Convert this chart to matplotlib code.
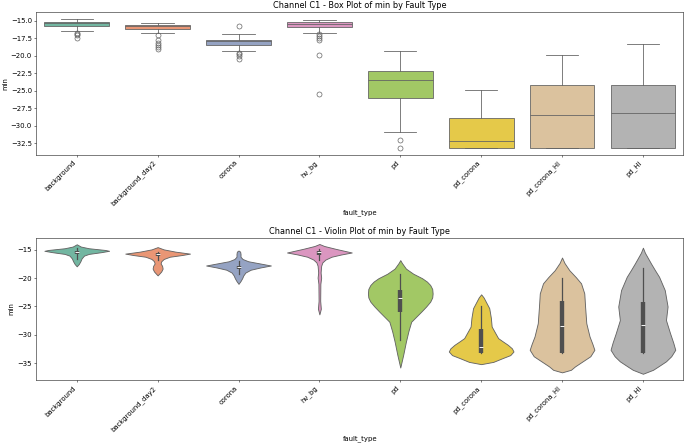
import matplotlib
matplotlib.use('Agg')
import matplotlib.pyplot as plt
import numpy as np
import seaborn as sns

# categories and box plot stats
fault_types = ['background', 'background_day2', 'corona', 'hv_bg',
               'pd', 'pd_corona', 'pd_corona_HI', 'pd_HI']

whis_hi = [-14.67, -15.29, -16.9, -14.9, -19.27, -24.87, -19.89, -18.27]
q3 = [-15.1, -15.53, -17.76, -15.24, -22.17, -28.94, -24.11, -24.21]
med = [-15.34, -15.77, -17.95, -15.43, -23.45, -32.22, -28.52, -28.24]
q1 = [-15.77, -16.1, -18.41, -15.86, -26.01, -33.21, -33.21, -33.2]
whis_lo = [-16.52, -16.72, -19.32, -16.76, -30.94, -33.21, -33.21, -33.2]
fliers = [
    [-16.7, -16.85, -17.0, -17.47],
    [-17.0, -17.7, -18.1, -18.4, -18.76, -18.99],
    [-15.72, -19.55, -19.8, -20.08, -20.46],
    [-16.95, -17.2, -17.45, -17.7, -19.94, -25.44],
    [-32.03, -33.21],
    [],
    [],
    [],
]

# violin outlines: value levels and half widths (category units)
vio_y = [
    [-14.0, -14.4, -14.7, -15.0, -15.15, -15.4, -15.7, -16.0, -16.5, -17.0, -17.5, -17.9],
    [-14.5, -14.9, -15.3, -15.65, -15.9, -16.2, -16.6, -17.0, -17.4, -17.8, -18.3, -18.8, -19.2, -19.5],
    [-15.1, -15.3, -15.7, -16.2, -16.6, -17.0, -17.4, -17.75, -18.1, -18.5, -19.0, -19.5, -20.0, -20.5, -21.0],
    [-13.95, -14.3, -14.8, -15.45, -15.8, -16.2, -16.7, -17.2, -17.8, -19.0, -19.9, -21.0, -24.0, -25.4, -26.4],
    [-16.8, -17.3, -18.3, -19.2, -20.0, -20.6, -21.2, -21.9, -22.7, -23.4, -24.15, -25.0, -25.9,
     -27.7, -29.4, -31.2, -33.5, -35.8],
    [-22.85, -23.4, -25.3, -27.0, -28.55, -30.6, -31.2, -31.78, -32.4, -32.96, -33.6, -34.1, -34.8, -35.2],
    [-16.34, -17.3, -18.58, -19.8, -20.9, -22.68, -25.0, -27.96, -30.3, -31.6, -32.66, -33.8, -34.7,
     -35.6, -36.2, -36.65],
    [-14.6, -15.5, -17.4, -18.6, -19.75, -22.1, -25.0, -27.4, -29.7, -31.4, -32.66, -33.8, -34.7,
     -35.6, -36.2, -36.9],
]
vio_w = [
    [0, 0.05, 0.15, 0.35, 0.40, 0.30, 0.15, 0.09, 0.06, 0.045, 0.025, 0],
    [0, 0.075, 0.22, 0.40, 0.30, 0.15, 0.075, 0.045, 0.037, 0.055, 0.062, 0.045, 0.02, 0],
    [0, 0.02, 0.025, 0.025, 0.05, 0.12, 0.27, 0.40, 0.27, 0.15, 0.085, 0.06, 0.045, 0.025, 0],
    [0, 0.06, 0.2, 0.40, 0.27, 0.15, 0.075, 0.037, 0.022, 0.015, 0.022, 0.012, 0.01, 0.018, 0],
    [0, 0.02, 0.07, 0.16, 0.27, 0.33, 0.37, 0.395, 0.40, 0.395, 0.37, 0.32, 0.26,
     0.135, 0.1, 0.07, 0.037, 0],
    [0, 0.03, 0.1, 0.12, 0.13, 0.21, 0.27, 0.33, 0.38, 0.40, 0.36, 0.27, 0.15, 0],
    [0, 0.03, 0.09, 0.17, 0.235, 0.275, 0.285, 0.3, 0.34, 0.375, 0.40, 0.35, 0.255,
     0.16, 0.11, 0],
    [0, 0.025, 0.1, 0.15, 0.2, 0.27, 0.305, 0.285, 0.335, 0.375, 0.40, 0.35, 0.285,
     0.19, 0.125, 0],
]

colors = sns.color_palette('Set2', len(fault_types), desat=0.75)
line_col = '#636363'

plt.rcParams['font.size'] = 11
plt.rcParams['axes.titlesize'] = 13

fig = plt.figure(figsize=(685 / 45, 445 / 45), dpi=45)
fig.subplots_adjust(left=0.053, right=0.9976, top=0.973, bottom=0.1455, hspace=0.58)
ax1 = fig.add_subplot(2, 1, 1)
ax2 = fig.add_subplot(2, 1, 2)

pos = np.arange(len(fault_types))

# Box plot
stats = []
for i, name in enumerate(fault_types):
    stats.append({'label': name, 'whishi': whis_hi[i], 'q3': q3[i], 'med': med[i],
                  'q1': q1[i], 'whislo': whis_lo[i], 'fliers': fliers[i]})

bp = ax1.bxp(stats, positions=pos, widths=0.8, patch_artist=True,
             boxprops=dict(edgecolor=line_col, linewidth=1.3),
             medianprops=dict(color=line_col, linewidth=1.3),
             whiskerprops=dict(color=line_col, linewidth=1.3),
             capprops=dict(color=line_col, linewidth=1.3),
             flierprops=dict(marker='o', markerfacecolor='none', markeredgecolor=line_col,
                             markersize=8, markeredgewidth=1.1),
             capwidths=0.4)
for patch, c in zip(bp['boxes'], colors):
    patch.set_facecolor(c)

ax1.set_xlim(-0.5, len(fault_types) - 0.5)
ax1.set_title('Channel C1 - Box Plot of min by Fault Type')
ax1.set_xlabel('fault_type')
ax1.set_ylabel('min')
ax1.set_xticks(pos)
ax1.set_xticklabels(fault_types, rotation=45, ha='right')

# Violin plot
for i in range(len(fault_types)):
    y = np.array(vio_y[i])
    w = np.array(vio_w[i])
    ax2.fill_betweenx(y, pos[i] - w, pos[i] + w, facecolor=colors[i],
                      edgecolor=line_col, linewidth=1.4, zorder=1)
    ax2.plot([pos[i], pos[i]], [whis_lo[i], whis_hi[i]], color='#4f4f4f', linewidth=2, zorder=2)
    ax2.plot([pos[i], pos[i]], [q1[i], q3[i]], color='#4f4f4f', linewidth=7,
             solid_capstyle='butt', zorder=3)
    ax2.plot([pos[i]], [med[i]], marker='_', color='white', markersize=6,
             markeredgewidth=1.5, zorder=4)

ax2.set_xlim(-0.5, len(fault_types) - 0.5)
ax2.set_title('Channel C1 - Violin Plot of min by Fault Type')
ax2.set_xlabel('fault_type')
ax2.set_ylabel('min')
ax2.set_xticks(pos)
ax2.set_xticklabels(fault_types, rotation=45, ha='right')

plt.savefig('out.png', dpi=45)
